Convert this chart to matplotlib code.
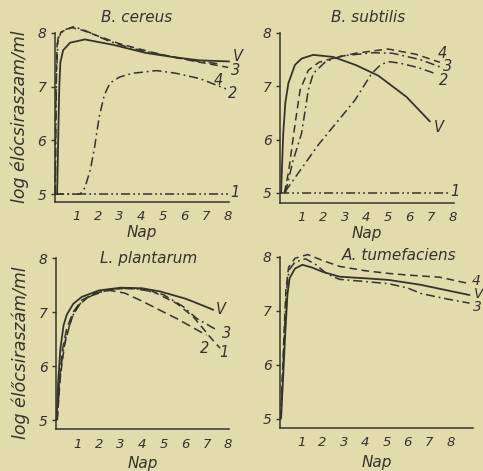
import matplotlib
matplotlib.use("Agg")
import matplotlib.pyplot as plt

paper = "#e2dbac"
ink = "#35342c"

# B. cereus
bc_v_x = [0.12, 0.17, 0.22, 0.27, 0.4, 0.72, 1.4, 2.7, 4.2, 5.5, 6.7, 8.05]
bc_v_y = [5.0, 6.0, 7.0, 7.45, 7.68, 7.82, 7.88, 7.78, 7.63, 7.55, 7.49, 7.47]
bc_3_x = [0.02, 0.07, 0.12, 0.3, 0.8, 1.3, 2.1, 3.0, 4.4, 5.5, 6.5, 8.0]
bc_3_y = [5.0, 7.0, 7.8, 8.02, 8.1, 8.05, 7.93, 7.8, 7.65, 7.55, 7.47, 7.36]
bc_4_x = [0.04, 0.09, 0.16, 0.4, 0.9, 1.5, 2.5, 3.5, 4.5, 5.5, 6.5, 7.5]
bc_4_y = [5.0, 7.2, 7.9, 8.05, 8.12, 8.03, 7.85, 7.72, 7.63, 7.55, 7.48, 7.43]
bc_2_x = [0.0, 1.18, 1.4, 1.65, 1.85, 2.06, 2.3, 2.56, 3.0, 3.6, 4.7, 5.6, 6.7, 7.9]
bc_2_y = [5.0, 5.0, 5.12, 5.45, 5.88, 6.44, 6.85, 7.07, 7.18, 7.25, 7.3, 7.25, 7.15, 6.96]
bc_1_x = [0.0, 8.0]
bc_1_y = [5.0, 5.0]

# B. subtilis
bs_v_x = [0.05, 0.15, 0.25, 0.39, 0.69, 1.0, 1.54, 2.47, 3.5, 4.55, 5.86, 6.94]
bs_v_y = [5.0, 6.12, 6.7, 7.06, 7.4, 7.52, 7.59, 7.55, 7.4, 7.2, 6.8, 6.34]
bs_4_x = [0.2, 0.4, 0.7, 0.93, 1.31, 1.8, 2.4, 3.5, 5.0, 6.3, 7.4]
bs_4_y = [5.0, 5.4, 6.3, 6.93, 7.3, 7.45, 7.52, 7.62, 7.7, 7.6, 7.45]
bs_3_x = [0.25, 0.6, 1.0, 1.31, 1.54, 2.1, 2.85, 4.3, 5.2, 6.5, 7.5]
bs_3_y = [5.0, 5.6, 6.12, 6.93, 7.24, 7.46, 7.57, 7.63, 7.62, 7.5, 7.35]
bs_2_x = [0.23, 1.77, 3.47, 4.24, 4.6, 4.86, 5.09, 5.6, 6.4, 7.18]
bs_2_y = [5.02, 5.9, 6.74, 7.24, 7.38, 7.44, 7.46, 7.43, 7.35, 7.24]
bs_1_x = [0.0, 7.9]
bs_1_y = [5.0, 5.0]

# L. plantarum
lp_v_x = [0.03, 0.1, 0.2, 0.35, 0.5, 0.8, 1.2, 2.0, 3.0, 4.0, 4.84, 6.0, 6.39, 7.32]
lp_v_y = [5.0, 5.7, 6.3, 6.75, 6.95, 7.15, 7.28, 7.4, 7.45, 7.44, 7.38, 7.25, 7.19, 7.04]
lp_2_x = [0.05, 0.15, 0.3, 0.5, 0.8, 1.2, 1.8, 2.5, 3.2, 4.06, 5.0, 5.61, 7.0]
lp_2_y = [5.0, 5.7, 6.3, 6.7, 7.0, 7.22, 7.35, 7.4, 7.35, 7.19, 7.0, 6.88, 6.57]
lp_3_x = [0.05, 0.15, 0.3, 0.5, 0.8, 1.2, 2.0, 3.0, 4.0, 5.0, 5.92, 6.54, 7.47]
lp_3_y = [5.0, 5.6, 6.2, 6.6, 6.95, 7.2, 7.38, 7.44, 7.42, 7.32, 7.1, 6.88, 6.67]
lp_1_x = [0.06, 0.2, 0.4, 0.7, 1.0, 1.5, 2.5, 3.5, 4.5, 5.61, 6.39, 7.16, 7.63]
lp_1_y = [5.0, 5.8, 6.4, 6.85, 7.1, 7.28, 7.42, 7.44, 7.38, 7.16, 6.91, 6.54, 6.33]

# A. tumefaciens
at_v_x = [0.05, 0.15, 0.25, 0.35, 0.45, 0.7, 1.05, 1.5, 2.0, 2.8, 4.0, 5.1, 6.6, 8.9]
at_v_y = [5.0, 5.8, 6.6, 7.3, 7.6, 7.78, 7.85, 7.8, 7.72, 7.63, 7.6, 7.57, 7.48, 7.29]
at_4_x = [0.03, 0.12, 0.2, 0.28, 0.4, 0.7, 1.3, 2.0, 2.8, 4.0, 5.1, 6.0, 7.5, 8.9]
at_4_y = [5.0, 5.9, 6.7, 7.4, 7.8, 7.97, 8.04, 7.93, 7.82, 7.74, 7.69, 7.66, 7.62, 7.5]
at_3_x = [0.04, 0.14, 0.22, 0.3, 0.42, 0.7, 1.2, 1.7, 2.2, 2.8, 4.0, 5.1, 6.0, 6.6, 7.8, 8.9]
at_3_y = [5.0, 5.9, 6.7, 7.35, 7.75, 7.9, 7.96, 7.85, 7.68, 7.58, 7.54, 7.5, 7.42, 7.32, 7.22, 7.14]

ylabel_top = "log élócsiraszam/ml"
ylabel_bottom = "log élőcsiraszám/ml"

solid = "-"
dashed = (0, (5, 3))
dashdot = (0, (6, 2.5, 1.2, 2.5))
dashdotdot = (0, (6, 2, 1.2, 2, 1.2, 2))

W, H = 483, 471
fig = plt.figure(figsize=(W / 100, H / 100), dpi=100)
fig.patch.set_facecolor(paper)


def make_axes(x0, sx, py8, sy, xmax, ymin):
    ymax = 8.25
    left = x0 / W
    width = xmax * sx / W
    bottom = 1 - (py8 + (8 - ymin) * sy) / H
    height = (ymax - ymin) * sy / H
    ax = fig.add_axes([left, bottom, width, height])
    ax.set_facecolor("none")
    ax.set_xlim(0, xmax)
    ax.set_ylim(ymin, ymax)
    for s in ["top", "right"]:
        ax.spines[s].set_visible(False)
    ax.spines["left"].set_bounds(ymin, 8)
    for s in ["left", "bottom"]:
        ax.spines[s].set_color(ink)
        ax.spines[s].set_linewidth(1.1)
    ax.set_xticks(range(1, 9))
    ax.set_yticks([5, 6, 7, 8])
    ax.tick_params(axis="x", length=0, pad=6, labelsize=9.5, colors=ink)
    ax.tick_params(axis="y", length=3, width=1, pad=3, labelsize=10, colors=ink)
    for lab in ax.get_xticklabels() + ax.get_yticklabels():
        lab.set_style("italic")
    return ax


def curve(ax, x, y, ls, lw=1.1):
    ax.plot(x, y, color=ink, lw=lw, ls=ls, clip_on=False, solid_capstyle="round")


def label(ax, x, y, s, size=10.5):
    ax.text(x, y, s, color=ink, fontsize=size, style="italic", ha="center",
            va="center", clip_on=False)


txt = dict(color=ink, style="italic")

# panel 1
ax1 = make_axes(54.5, 21.7, 33, 53.7, 8.05, 4.85)
curve(ax1, bc_1_x, bc_1_y, dashdotdot)
curve(ax1, bc_2_x, bc_2_y, dashdot)
curve(ax1, bc_4_x, bc_4_y, dashdot)
curve(ax1, bc_3_x, bc_3_y, dashed)
curve(ax1, bc_v_x, bc_v_y, solid, 1.3)
label(ax1, 8.45, 7.56, "V")
label(ax1, 8.35, 7.3, "3")
label(ax1, 7.55, 7.12, "4")
label(ax1, 8.2, 6.88, "2")
label(ax1, 8.3, 5.03, "1")
ax1.text(3.8, 8.29, "B. cereus", fontsize=11, ha="center", va="center", **txt)
ax1.set_xlabel("Nap", fontsize=11, labelpad=1, **txt)

# panel 2
ax2 = make_axes(280, 21.6, 33, 53.3, 8.05, 4.81)
curve(ax2, bs_1_x, bs_1_y, dashdotdot)
curve(ax2, bs_2_x, bs_2_y, dashdot)
curve(ax2, bs_3_x, bs_3_y, dashdot)
curve(ax2, bs_4_x, bs_4_y, dashed)
curve(ax2, bs_v_x, bs_v_y, solid, 1.3)
label(ax2, 7.5, 7.62, "4")
label(ax2, 7.75, 7.37, "3")
label(ax2, 7.55, 7.1, "2")
label(ax2, 7.35, 6.22, "V")
label(ax2, 8.1, 5.02, "1")
ax2.text(4.07, 8.29, "B. subtilis", fontsize=11, ha="center", va="center", **txt)
ax2.set_xlabel("Nap", fontsize=11, labelpad=1, **txt)

# panel 3
ax3 = make_axes(56, 21.5, 258, 54, 8.05, 4.83)
curve(ax3, lp_1_x, lp_1_y, dashed)
curve(ax3, lp_2_x, lp_2_y, (0, (6, 3)))
curve(ax3, lp_3_x, lp_3_y, dashdot)
curve(ax3, lp_v_x, lp_v_y, solid, 1.3)
label(ax3, 7.65, 7.05, "V")
label(ax3, 7.95, 6.6, "3")
label(ax3, 6.9, 6.33, "2")
label(ax3, 7.8, 6.25, "1")
ax3.text(4.3, 8.0, "L. plantarum", fontsize=11, ha="center", va="center", **txt)
ax3.set_xlabel("Nap", fontsize=11, labelpad=4, **txt)

# panel 4
ax4 = make_axes(280, 21.3, 256.7, 54, 9.05, 4.83)
curve(ax4, at_3_x, at_3_y, dashdot)
curve(ax4, at_4_x, at_4_y, dashed)
curve(ax4, at_v_x, at_v_y, solid, 1.3)
label(ax4, 9.2, 7.55, "4", 10)
label(ax4, 9.35, 7.31, "V", 10)
label(ax4, 9.25, 7.07, "3", 10)
ax4.text(5.6, 8.02, "A. tumefaciens", fontsize=11, ha="center", va="center", **txt)
ax4.set_xlabel("Nap", fontsize=11, labelpad=4, **txt)

# shared y labels
fig.text(20 / W, 1 - 117 / H, ylabel_top, rotation=90, fontsize=12.5,
         ha="center", va="center", **txt)
fig.text(21 / W, 1 - 353 / H, ylabel_bottom, rotation=90, fontsize=12.5,
         ha="center", va="center", **txt)

fig.savefig("out.png", dpi=100, facecolor=paper)
